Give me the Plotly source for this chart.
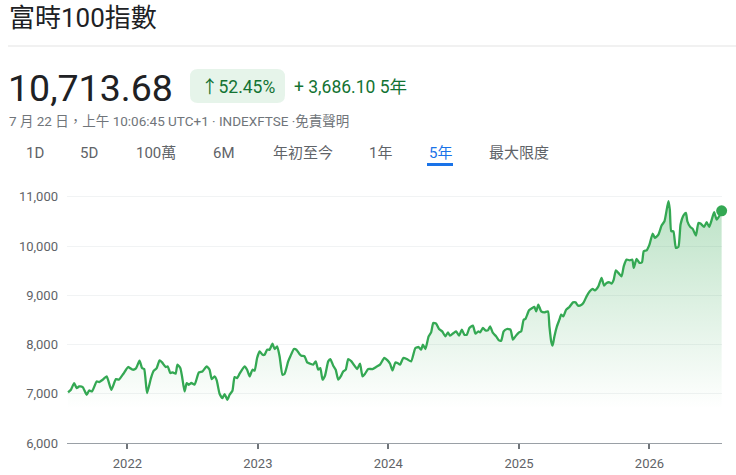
import plotly.graph_objects as go

# ---------------- data ----------------
dates = [
    "2021-07-19", "2021-07-27", "2021-08-05", "2021-08-12", "2021-08-19", "2021-08-29",
    "2021-09-09", "2021-09-16", "2021-09-24", "2021-10-07", "2021-10-14", "2021-10-24",
    "2021-11-04", "2021-11-17", "2021-11-30", "2021-12-08", "2021-12-21",
    "2022-01-03", "2022-01-16", "2022-01-25", "2022-02-04", "2022-02-11", "2022-02-17",
    "2022-02-25", "2022-03-08", "2022-03-15", "2022-03-24", "2022-04-01", "2022-04-08",
    "2022-04-18", "2022-04-24", "2022-05-01", "2022-05-08", "2022-05-16", "2022-05-21",
    "2022-05-29", "2022-06-03", "2022-06-10", "2022-06-16", "2022-06-22", "2022-06-29",
    "2022-07-08", "2022-07-20", "2022-07-30", "2022-08-11", "2022-08-19", "2022-08-25",
    "2022-09-02", "2022-09-08", "2022-09-16", "2022-09-24", "2022-09-30", "2022-10-08",
    "2022-10-14", "2022-10-22", "2022-10-28", "2022-11-04", "2022-11-11", "2022-11-25",
    "2022-12-02", "2022-12-09", "2022-12-17", "2022-12-23", "2022-12-30",
    "2023-01-06", "2023-01-14", "2023-01-20", "2023-01-27", "2023-02-03", "2023-02-11",
    "2023-02-17", "2023-02-24", "2023-03-03", "2023-03-11", "2023-03-17", "2023-03-27",
    "2023-04-02", "2023-04-12", "2023-04-19", "2023-04-27", "2023-05-03", "2023-05-12",
    "2023-05-19", "2023-05-28", "2023-06-05", "2023-06-12", "2023-06-19", "2023-06-25",
    "2023-07-01", "2023-07-08", "2023-07-17", "2023-07-23", "2023-07-31", "2023-08-07",
    "2023-08-14", "2023-08-21", "2023-08-28", "2023-09-04", "2023-09-11", "2023-09-20",
    "2023-09-30", "2023-10-06", "2023-10-14", "2023-10-21", "2023-10-28", "2023-11-06",
    "2023-11-18", "2023-11-28", "2023-12-09", "2023-12-21", "2023-12-30",
    "2024-01-06", "2024-01-13", "2024-01-21", "2024-01-27", "2024-02-03", "2024-02-12",
    "2024-02-22", "2024-03-05", "2024-03-17", "2024-03-26", "2024-04-02", "2024-04-07",
    "2024-04-14", "2024-04-23", "2024-04-30", "2024-05-06", "2024-05-14", "2024-05-22",
    "2024-05-31", "2024-06-09", "2024-06-16", "2024-06-22", "2024-07-02", "2024-07-09",
    "2024-07-17", "2024-07-25", "2024-08-01", "2024-08-08", "2024-08-15", "2024-08-25",
    "2024-09-01", "2024-09-09", "2024-09-14", "2024-09-22", "2024-09-29", "2024-10-06",
    "2024-10-12", "2024-10-20", "2024-10-29", "2024-11-06", "2024-11-12", "2024-11-19",
    "2024-11-28", "2024-12-08", "2024-12-15", "2024-12-22",
    "2025-01-01", "2025-01-07", "2025-01-14", "2025-01-19", "2025-01-29", "2025-02-07",
    "2025-02-13", "2025-02-18", "2025-02-24", "2025-03-04", "2025-03-13", "2025-03-23",
    "2025-03-27", "2025-04-01", "2025-04-05", "2025-04-10", "2025-04-17", "2025-04-24",
    "2025-04-29", "2025-05-05", "2025-05-13", "2025-05-22", "2025-06-01", "2025-06-08",
    "2025-06-15", "2025-06-25", "2025-07-01", "2025-07-09", "2025-07-18", "2025-07-26",
    "2025-08-01", "2025-08-11", "2025-08-20", "2025-08-27", "2025-09-03", "2025-09-11",
    "2025-09-17", "2025-09-23", "2025-09-29", "2025-10-06", "2025-10-15", "2025-10-21",
    "2025-10-29", "2025-11-07", "2025-11-14", "2025-11-18", "2025-11-26", "2025-12-04",
    "2025-12-11", "2025-12-16", "2025-12-24",
    "2026-01-01", "2026-01-10", "2026-01-16", "2026-01-26", "2026-02-04", "2026-02-12",
    "2026-02-23", "2026-02-27", "2026-03-03", "2026-03-09", "2026-03-16", "2026-03-23",
    "2026-03-29", "2026-04-06", "2026-04-13", "2026-04-17", "2026-04-25", "2026-05-02",
    "2026-05-11", "2026-05-18", "2026-05-24", "2026-06-03", "2026-06-10", "2026-06-17",
    "2026-06-23", "2026-07-01", "2026-07-08", "2026-07-15", "2026-07-22",
]

values = [
    7028, 7081, 7217, 7116, 7148, 7136,
    6980, 7067, 7047, 7250, 7238, 7285,
    7352, 7081, 7299, 7285, 7407,
    7543, 7488, 7514, 7671, 7522, 7502,
    7014, 7319, 7461, 7522, 7677, 7636,
    7543, 7555, 7421, 7433, 7407, 7590,
    7522, 7352, 7047, 7218, 7183, 7218,
    7183, 7433, 7453, 7555, 7488, 7299,
    7352, 7270, 7000, 6913, 6994, 6878,
    6980, 7061, 7340, 7319, 7407, 7555,
    7488, 7352, 7488, 7468, 7726,
    7860, 7793, 7793, 7895, 7895, 8017,
    7909, 7962, 7758, 7386, 7407, 7657,
    7758, 7909, 7895, 7813, 7773, 7758,
    7636, 7610, 7590, 7657, 7488, 7522,
    7285, 7366, 7657, 7705, 7569, 7488,
    7285, 7352, 7453, 7488, 7705, 7657,
    7555, 7502, 7610, 7352, 7407, 7502,
    7502, 7543, 7590, 7726, 7677,
    7610, 7474, 7636, 7624, 7590, 7726,
    7705, 7657, 7929, 7949, 7895, 7996,
    7909, 8165, 8246, 8437, 8423, 8315,
    8267, 8165, 8246, 8179, 8234, 8267,
    8179, 8301, 8199, 8199, 8336, 8382,
    8220, 8267, 8246, 8336, 8287, 8287,
    8368, 8234, 8165, 8084, 8077, 8267,
    8315, 8301, 8098, 8165,
    8246, 8267, 8504, 8519, 8694, 8742,
    8763, 8673, 8809, 8673, 8653, 8673,
    8368, 8063, 7976, 8165, 8368, 8504,
    8606, 8572, 8708, 8763, 8856, 8856,
    8789, 8809, 8856, 8978, 9080, 9129,
    9100, 9181, 9352, 9196, 9251, 9263,
    9237, 9318, 9507, 9454, 9385, 9588,
    9724, 9710, 9724, 9556, 9738, 9657,
    9669, 9893, 9913,
    10029, 10253, 10165, 10232, 10415, 10503,
    10909, 10741, 10300, 10300, 9962, 9982,
    10436, 10619, 10674, 10503, 10389, 10348,
    10212, 10470, 10456, 10389, 10483, 10389,
    10503, 10686, 10537, 10605, 10713.68,
]

title_text = "富時100指數"
price_text = "10,713.68"
change_pct_text = "↑52.45%"
change_abs_text = "+ 3,686.10 5年"
subtitle_text = "7 月 22 日，上午 10:06:45 UTC+1 · INDEXFTSE ·免責聲明"
tabs = ["1D", "5D", "100萬", "6M", "年初至今", "1年", "5年", "最大限度"]
active_tab = "5年"
y_ticks = [6000, 7000, 8000, 9000, 10000, 11000]
y_tick_labels = ["6,000", "7,000", "8,000", "9,000", "10,000", "11,000"]
x_ticks = ["2022-01-01", "2023-01-01", "2024-01-01", "2025-01-01", "2026-01-01"]
x_tick_labels = ["2022", "2023", "2024", "2025", "2026"]

# ---------------- layout geometry (pixels) ----------------
W_FIG, H_FIG = 736, 475
L, R, T, B = 67, 722, 182, 443
PW, PH = R - L, B - T


def px(x):
    return (x - L) / PW


def py(y):
    return (B - y) / PH


def rounded_rect(x0, y0, x1, y1, r):
    X0, X1 = px(x0), px(x1)
    Y0, Y1 = py(y0), py(y1)
    rx, ry = r / PW, r / PH
    return (
        f"M {X0 + rx} {Y0} L {X1 - rx} {Y0} Q {X1} {Y0} {X1} {Y0 - ry} "
        f"L {X1} {Y1 + ry} Q {X1} {Y1} {X1 - rx} {Y1} "
        f"L {X0 + rx} {Y1} Q {X0} {Y1} {X0} {Y1 + ry} "
        f"L {X0} {Y0 - ry} Q {X0} {Y0} {X0 + rx} {Y0} Z"
    )


GREEN = "#34a853"
DARK_GREEN = "#137333"
FONT = "Roboto, 'Noto Sans CJK TC', sans-serif"

fig = go.Figure()

fig.add_trace(go.Scatter(
    x=dates, y=values, mode="lines",
    line=dict(color=GREEN, width=2.3, shape="spline", smoothing=0.5),
    fill="tozeroy",
    fillgradient=dict(
        type="vertical",
        colorscale=[[0, "rgba(52,168,83,0)"], [1, "rgba(52,168,83,0.33)"]],
        start=6700, stop=10900,
    ),
    hoverinfo="skip", showlegend=False,
))
fig.add_trace(go.Scatter(
    x=[dates[-1]], y=[values[-1]], mode="markers",
    marker=dict(color=GREEN, size=11),
    hoverinfo="skip", showlegend=False, cliponaxis=False,
))

annotations = []
shapes = []


def note(x, y, text, size, color, anchor="left"):
    annotations.append(dict(
        xref="paper", yref="paper", x=px(x), y=py(y), text=text,
        showarrow=False, xanchor=anchor, yanchor="middle",
        font=dict(size=size, color=color, family=FONT),
    ))


# title
note(7, 18, title_text, 26, "#202124")
shapes.append(dict(type="line", xref="paper", yref="paper",
                   x0=px(8), x1=px(736), y0=py(46), y1=py(46),
                   line=dict(color="#e3e3e3", width=1)))
# price
note(6, 88, price_text, 37.5, "#202124")
# badge
shapes.append(dict(type="path", xref="paper", yref="paper",
                   path=rounded_rect(190, 69, 285, 103, 8),
                   fillcolor="#e6f4ea", line=dict(width=0)))
note(237.5, 86.5, change_pct_text, 17.5, DARK_GREEN, "center")
note(292, 86.5, change_abs_text, 17.5, DARK_GREEN)
# subtitle
note(7, 121, subtitle_text, 13.5, "#70757a")
# tabs
tab_centers = [35, 89, 156, 224, 303, 380, 440, 519]
for label, cx in zip(tabs, tab_centers):
    active = label == active_tab
    note(cx, 153, label, 15, "#1a73e8" if active else "#5f6368", "center")
    if active:
        shapes.append(dict(type="rect", xref="paper", yref="paper",
                           x0=px(cx - 13), x1=px(cx + 13), y0=py(163), y1=py(166),
                           fillcolor="#1a73e8", line=dict(width=0)))

fig.update_layout(
    width=W_FIG, height=H_FIG,
    margin=dict(l=L, r=W_FIG - R, t=T, b=H_FIG - B, pad=0, autoexpand=False),
    paper_bgcolor="white", plot_bgcolor="white",
    font=dict(family=FONT, color="#5f6368", size=13),
    xaxis=dict(
        type="date", range=["2021-07-16", "2026-07-23"],
        tickvals=x_ticks, ticktext=x_tick_labels,
        showgrid=False, zeroline=False, automargin=False,
        showline=True, linecolor="#9aa0a6", linewidth=1,
        ticks="outside", ticklen=5, tickwidth=2, tickcolor="#70757a",
        ticklabelstandoff=3,
        tickfont=dict(size=13, color="#5f6368"),
    ),
    yaxis=dict(
        range=[6000, 11300], automargin=False,
        tickvals=y_ticks, ticktext=y_tick_labels,
        showgrid=True, gridcolor="#f1f3f4", gridwidth=1,
        zeroline=False, showline=False, ticks="",
        ticklabelstandoff=8,
        tickfont=dict(size=13, color="#5f6368"),
    ),
    annotations=annotations,
    shapes=shapes,
    showlegend=False,
)

fig.write_html("out.html")
